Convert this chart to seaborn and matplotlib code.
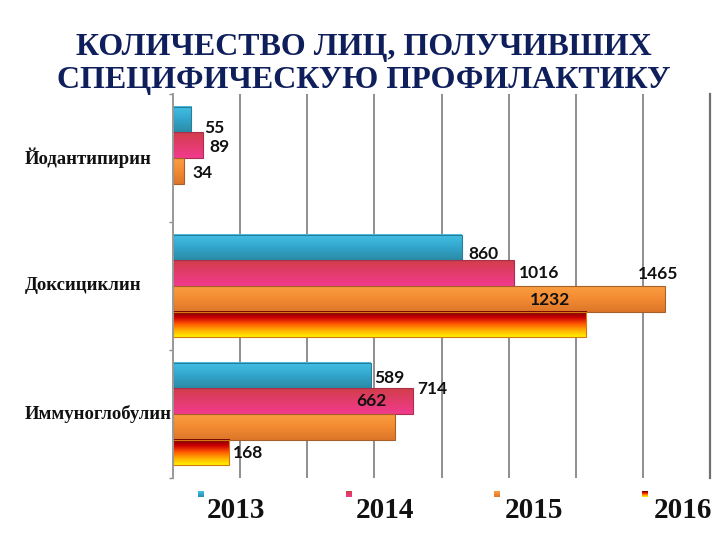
import numpy as np
import pandas as pd
import matplotlib
matplotlib.use("Agg")
import matplotlib.pyplot as plt
import matplotlib.transforms as mtransforms
import seaborn as sns
from matplotlib.colors import LinearSegmentedColormap

# ---------------- data ----------------
categories = ["Йодантипирин", "Доксициклин", "Иммуноглобулин"]
years = ["2013", "2014", "2015", "2016"]
values_2013 = [55, 860, 589]
values_2014 = [89, 1016, 714]
values_2015 = [34, 1465, 662]
values_2016 = [0, 1232, 168]
labels_2013 = ["55", "860", "589"]
labels_2014 = ["89", "1016", "714"]
labels_2015 = ["34", "1465", "662"]
labels_2016 = [None, "1232", "168"]
title_lines = ["КОЛИЧЕСТВО ЛИЦ, ПОЛУЧИВШИХ", "СПЕЦИФИЧЕСКУЮ ПРОФИЛАКТИКУ"]

all_values = [values_2013, values_2014, values_2015, values_2016]
all_labels = [labels_2013, labels_2014, labels_2015, labels_2016]

df = pd.DataFrame({
    "Препарат": categories * len(years),
    "Год": np.repeat(years, len(categories)),
    "Количество": sum(all_values, []),
})

# ---------------- style ----------------
sns.set_theme(style="white")
plt.rcParams['font.family'] = ['DejaVu Sans']
SERIF = ['Liberation Serif', 'DejaVu Serif']
SANS = ['Lato', 'DejaVu Sans']

gradients = [
    ['#44c0e6', '#33a6cc', '#2a8ca6'],
    ['#d23e48', '#e23c6c', '#f23a8e'],
    ['#fb9e40', '#f28a32', '#dd7628'],
    ['#6e0000', '#cc0000', '#ff5a00', '#ffb000', '#fff200'],
]
edge_colors = ['#2a7f98', '#a8304e', '#a8602a', '#d07a10']
cmaps = [LinearSegmentedColormap.from_list(f"g{i}", c) for i, c in enumerate(gradients)]
flat_colors = [g[len(g) // 2] for g in gradients]

fig = plt.figure(figsize=(7.2, 5.4), dpi=100)
ax = fig.add_axes([173 / 720, 1 - 478 / 540, 537 / 720, 384 / 540])

sns.barplot(data=df, y="Препарат", x="Количество", hue="Год",
            order=categories, hue_order=years, orient="h", width=0.8,
            palette=flat_colors, saturation=1, errorbar=None, legend=False, ax=ax)

xmax = 1600
ax.set_xlim(0, xmax)
ax.set_ylim(len(categories) - 0.5, -0.5)

# gradient fills for the bars
grad = np.linspace(0, 1, 128).reshape(-1, 1)
for cont, cmap, ec in zip(ax.containers, cmaps, edge_colors):
    for patch in cont:
        x0, y0 = patch.get_x(), patch.get_y()
        w, h = patch.get_width(), patch.get_height()
        if w <= 0:
            patch.set_visible(False)
            continue
        ax.imshow(grad, cmap=cmap, aspect='auto', origin='upper',
                  extent=(x0, x0 + w, y0 + h, y0), zorder=1,
                  interpolation='bilinear')
        patch.set_facecolor('none')
        patch.set_edgecolor(ec)
        patch.set_linewidth(0.8)
        patch.set_zorder(2)

ax.set_xlim(0, xmax)
ax.set_ylim(len(categories) - 0.5, -0.5)

# value labels: (dx px from bar end, dy px downwards from bar centre, ha)
label_offsets = [
    [(13, 8, 'left'), (7, 6, 'left'), (4, 2, 'left')],
    [(7, 2, 'left'), (5, 0, 'left'), (5, -12, 'left')],
    [(8, 2, 'left'), (-7, -25, 'center'), (-24, -26, 'center')],
    [(0, 0, 'left'), (-36, -24, 'center'), (4, 1, 'left')],
]
for cont, labs, offs in zip(ax.containers, all_labels, label_offsets):
    for patch, lab, (dx, dy, ha) in zip(cont, labs, offs):
        if lab is None:
            continue
        xe = patch.get_x() + patch.get_width()
        yc = patch.get_y() + patch.get_height() / 2
        ax.annotate(lab, (xe, yc), xytext=(dx, -dy), textcoords='offset pixels',
                    ha=ha, va='center', fontsize=12.5, fontweight='bold',
                    family=SANS, color='#111111', zorder=5)

# axes decoration
ax.set_xticks(np.arange(0, xmax + 1, 200))
ax.set_xticklabels([])
ax.tick_params(axis='x', length=0)
ax.grid(axis='x', color='#8e8e8e', linewidth=1.4)
ax.grid(axis='y', visible=False)
ax.set_axisbelow(True)
ax.set_yticks(np.arange(-0.5, len(categories), 1.0))
ax.set_yticklabels([])
ax.tick_params(axis='y', length=3, width=1, color='#8e8e8e', left=True, direction='out')
ax.set_xlabel("")
ax.set_ylabel("")
for s in ['top', 'bottom']:
    ax.spines[s].set_visible(False)
ax.spines['left'].set_color('#9a9a9a')
ax.spines['left'].set_linewidth(1.4)
ax.spines['right'].set_color('#707070')
ax.spines['right'].set_linewidth(1.6)

# category labels
trans = mtransforms.blended_transform_factory(fig.transFigure, ax.transData)
for i, cat in enumerate(categories):
    ax.text(25 / 720, i, cat, transform=trans, ha='left', va='center',
            fontsize=13.5, fontweight='bold', family=SERIF, color='#111111',
            clip_on=False)

# title
fig.text(0.505, 1 - 55 / 540, title_lines[0], ha='center', va='baseline',
         fontsize=23, fontweight='bold', family=SERIF, color='#0f1f5c')
fig.text(0.505, 1 - 88 / 540, title_lines[1], ha='center', va='baseline',
         fontsize=23, fontweight='bold', family=SERIF, color='#0f1f5c')

# legend
sq_x = [198, 346, 494, 642]
tx_x = [207, 356, 505, 654]
for yr, cmap, sx, tx in zip(years, cmaps, sq_x, tx_x):
    lax = fig.add_axes([sx / 720, 1 - 497 / 540, 6 / 720, 6 / 540])
    lax.imshow(grad, cmap=cmap, aspect='auto', interpolation='bilinear')
    lax.set_axis_off()
    fig.text(tx / 720, 1 - 518 / 540, yr, ha='left', va='baseline',
             fontsize=21, fontweight='bold', family=SERIF, color='#111111')

fig.savefig("out.png", dpi=100)
